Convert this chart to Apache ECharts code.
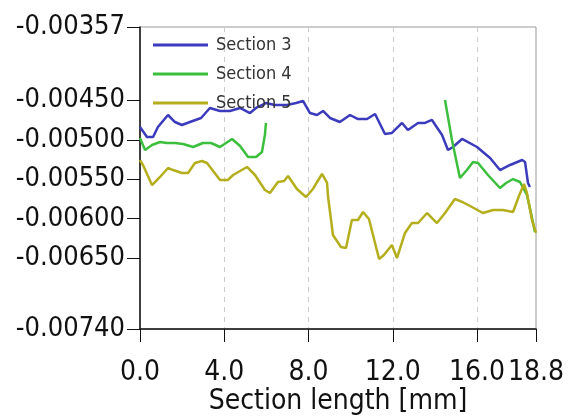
<!DOCTYPE html>
<html>
<head>
<meta charset="utf-8">
<script src="https://cdn.jsdelivr.net/npm/echarts@6/dist/echarts.min.js"></script>
<style>html,body{margin:0;background:#fff;}</style>
</head>
<body>
<div id="chart" style="width:570px;height:417px;"></div>
<script>
// 横轴/纵轴刻度
const yTicks = [-0.00357, -0.0045, -0.005, -0.0055, -0.006, -0.0065, -0.0074];
const yGrid = [-0.004, -0.0045, -0.005, -0.0055, -0.006, -0.0065, -0.007];
const seriesNames = ['Section 3', 'Section 4', 'Section 5'];

// Section 3
const s3X = [0, 0.33, 0.62, 0.85, 1.33, 1.66, 1.99, 2.37, 2.90, 3.32, 3.80, 4.27, 4.75, 5.22, 5.51, 5.98, 6.41, 6.98, 7.41, 7.74, 8.07, 8.40, 8.69, 9.02, 9.49, 9.97, 10.35, 10.78, 11.16, 11.63, 11.96, 12.44, 12.72, 13.20, 13.53, 13.86, 14.34, 14.62, 14.86, 15.29, 16.00, 16.62, 17.09, 17.57, 18.14, 18.28, 18.42, 18.51];
const s3Y = [-0.004838, -0.004965, -0.004965, -0.004838, -0.004686, -0.004775, -0.004813, -0.004775, -0.004724, -0.004597, -0.004635, -0.004635, -0.004597, -0.004661, -0.004597, -0.004534, -0.004559, -0.004559, -0.004534, -0.004508, -0.004661, -0.004686, -0.004635, -0.004724, -0.004775, -0.004686, -0.004737, -0.004737, -0.004673, -0.004927, -0.004914, -0.004787, -0.004876, -0.004787, -0.004787, -0.004749, -0.004940, -0.005130, -0.005092, -0.004990, -0.005092, -0.005231, -0.005384, -0.005320, -0.005257, -0.005282, -0.005548, -0.005599];

// Section 4 (null = 断开)
const s4X = [0, 0.24, 0.57, 0.95, 1.28, 1.66, 2.04, 2.52, 2.99, 3.37, 3.80, 4.37, 4.75, 5.13, 5.51, 5.79, 5.93, 5.98, 6.2, 14.48, 14.81, 15.19, 15.52, 15.81, 16.05, 16.52, 17.09, 17.38, 17.71, 18.04, 18.37, 18.56, 18.75];
const s4Y = [-0.004978, -0.005130, -0.005066, -0.005028, -0.005041, -0.005041, -0.005054, -0.005092, -0.005041, -0.005041, -0.005092, -0.004990, -0.005079, -0.005219, -0.005219, -0.005155, -0.004940, -0.004787, null, -0.004496, -0.005003, -0.005485, -0.005384, -0.005282, -0.005295, -0.005447, -0.005612, -0.005548, -0.005498, -0.005536, -0.005701, -0.005929, -0.006170];

// Section 5
const s5X = [0, 0.14, 0.57, 0.95, 1.33, 1.57, 1.99, 2.28, 2.61, 2.94, 3.18, 3.80, 4.18, 4.42, 5.08, 5.46, 5.93, 6.17, 6.55, 6.84, 7.03, 7.45, 7.88, 8.21, 8.64, 8.88, 8.93, 9.16, 9.54, 9.78, 10.06, 10.35, 10.59, 10.87, 11.35, 11.58, 11.96, 12.20, 12.58, 12.91, 13.20, 13.63, 14.10, 14.48, 14.95, 15.29, 15.67, 16.28, 16.76, 17.23, 17.71, 17.99, 18.23, 18.37, 18.61, 18.80];
const s5Y = [-0.005257, -0.005320, -0.005574, -0.005472, -0.005358, -0.005384, -0.005422, -0.005422, -0.005295, -0.005269, -0.005295, -0.005510, -0.005510, -0.005447, -0.005345, -0.005447, -0.005637, -0.005675, -0.005536, -0.005523, -0.005460, -0.005624, -0.005726, -0.005624, -0.005434, -0.005548, -0.005726, -0.006208, -0.006360, -0.006373, -0.006018, -0.006018, -0.005916, -0.006005, -0.006512, -0.006462, -0.006335, -0.006500, -0.006182, -0.006056, -0.006056, -0.005929, -0.006056, -0.005929, -0.005751, -0.005789, -0.005840, -0.005929, -0.005891, -0.005891, -0.005916, -0.005713, -0.005561, -0.005675, -0.006018, -0.006182];

function pairs(xs, ys) {
	return xs.map((x, i) => [x, ys[i] === null ? '-' : ys[i]]);
}

const font = 'DejaVu Sans Condensed';
const chart = echarts.init(document.getElementById('chart'));

const option = {
	animation: false,
	grid: {
		left: 140,
		right: 34,
		top: 27,
		bottom: 88,
		outerBoundsMode: 'none',
		show: true,
		borderColor: '#999',
		borderWidth: 1
	},
	legend: {
		data: seriesNames,
		orient: 'vertical',
		left: 148,
		top: 31,
		icon: 'rect',
		itemWidth: 55,
		itemHeight: 3,
		itemGap: 11,
		textStyle: { fontFamily: font, fontSize: 18, color: '#333', padding: [0, 0, 0, 3] }
	},
	xAxis: {
		type: 'value',
		min: 0,
		max: 18.8,
		interval: 4,
		name: 'Section length [mm]',
		nameLocation: 'middle',
		nameGap: 59,
		nameMoveOverlap: false,
		nameTextStyle: { fontFamily: font, fontSize: 28, color: '#111' },
		axisLine: { lineStyle: { color: '#111', width: 1.5 } },
		axisTick: { length: 13, lineStyle: { color: '#111' } },
		axisLabel: {
			fontFamily: font, fontSize: 28, color: '#111', margin: 30,
			showMinLabel: true, showMaxLabel: true,
			formatter: v => v.toFixed(1)
		},
		splitLine: { lineStyle: { type: [5, 5], color: '#ccc' } }
	},
	yAxis: {
		type: 'value',
		min: -0.0074,
		max: -0.00357,
		axisLine: { show: true, lineStyle: { color: '#111', width: 1.5 } },
		axisTick: { show: true, length: 13, customValues: yTicks, lineStyle: { color: '#111' } },
		axisLabel: {
			fontFamily: font, fontSize: 27, color: '#111', margin: 15,
			customValues: yTicks,
			formatter: v => v.toFixed(5)
		},
		splitLine: { show: false }
	},
	series: [
		{
			name: seriesNames[0],
			type: 'line',
			symbol: 'none',
			data: pairs(s3X, s3Y),
			lineStyle: { color: '#3b3bbd', width: 2.5 },
			itemStyle: { color: '#3b3bbd' },
			markLine: {
				silent: true,
				symbol: ['none', 'none'],
				label: { show: false },
				lineStyle: { type: [5, 5], color: '#ccc', width: 1 },
				data: yGrid.map(v => ({ yAxis: v }))
			},
			z: 3
		},
		{
			name: seriesNames[1],
			type: 'line',
			symbol: 'none',
			connectNulls: false,
			data: pairs(s4X, s4Y),
			lineStyle: { color: '#3cbf3c', width: 2.5 },
			itemStyle: { color: '#3cbf3c' },
			z: 3
		},
		{
			name: seriesNames[2],
			type: 'line',
			symbol: 'none',
			data: pairs(s5X, s5Y),
			lineStyle: { color: '#b5ae1c', width: 2.5 },
			itemStyle: { color: '#b5ae1c' },
			z: 3
		}
	]
};

chart.setOption(option);
</script>
</body>
</html>
